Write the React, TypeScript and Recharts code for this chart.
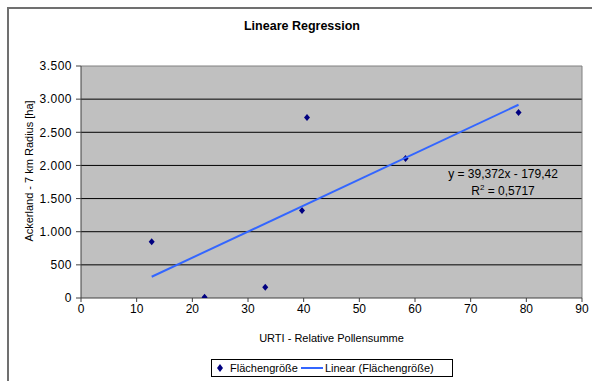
import React from 'react';
import { ScatterChart, Scatter, XAxis, YAxis, CartesianGrid, ReferenceLine } from 'recharts';

// URTI relative pollen sum vs. arable land (7 km radius)
const pollenSum = [12.7, 22.2, 33.1, 39.7, 40.6, 58.3, 78.6];
const areaHa = [848, 10, 161, 1321, 2722, 2105, 2798];

const xTicks = [0, 10, 20, 30, 40, 50, 60, 70, 80, 90];
const yTicks = [0, 500, 1000, 1500, 2000, 2500, 3000, 3500];
const gridValues = [500, 1000, 1500, 2000, 2500, 3000];

// trendline as printed on the chart
const slope = 39.372;
const intercept = -179.42;
const equationText = 'y = 39,372x - 179,42';
const rSquaredText = '0,5717';

const points = pollenSum.map((x, i) => ({ x, y: areaHa[i] }));
const trendX = [Math.min(...pollenSum), Math.max(...pollenSum)];
const trend = trendX.map((x) => ({ x, y: slope * x + intercept }));

const fmtThousands = (v: number) => String(v).replace(/\B(?=(\d{3})+(?!\d))/g, '.');

const font = '"Liberation Sans", Arial, sans-serif';

const Diamond = (props: any) => {
  const { cx, cy } = props;
  return <path d={`M${cx},${cy - 3.5}L${cx + 3},${cy}L${cx},${cy + 3.5}L${cx - 3},${cy}Z`} fill="#000080" />;
};

const NoDot = () => <g />;

export default function App() {
  return (
    <div style={{ position: 'fixed', left: 0, top: 0, width: 592, height: 381, background: '#fff', overflow: 'hidden', fontFamily: font }}>
      <div style={{ position: 'absolute', left: 7, top: 7, width: 640, height: 440, borderLeft: '2px solid #707070', borderTop: '2px solid #707070' }} />
      <div style={{ position: 'absolute', left: 0, width: 604, top: 19, textAlign: 'center', fontSize: 12.5, fontWeight: 'bold', color: '#000' }}>
        Lineare Regression
      </div>
      <ScatterChart width={592} height={381} margin={{ top: 66, right: 10, bottom: 53, left: 0 }} style={{ position: 'absolute', left: 0, top: 0 }}>
        <CartesianGrid vertical={false} horizontalValues={gridValues} stroke="#000" strokeOpacity={1} fill="#C0C0C0" fillOpacity={1} />
        <ReferenceLine y={3500} stroke="#808080" />
        <ReferenceLine x={90} stroke="#808080" />
        <XAxis
          type="number"
          dataKey="x"
          domain={[0, 90]}
          ticks={xTicks}
          height={30}
          tickSize={4}
          tickMargin={2}
          axisLine={{ stroke: '#404040' }}
          tickLine={{ stroke: '#404040' }}
          tick={{ fill: '#000', fontSize: 12, fontFamily: font }}
          allowDataOverflow
        />
        <YAxis
          type="number"
          dataKey="y"
          domain={[0, 3500]}
          ticks={yTicks}
          tickFormatter={fmtThousands}
          width={81}
          tickSize={5}
          tickMargin={4}
          axisLine={{ stroke: '#404040' }}
          tickLine={{ stroke: '#404040' }}
          tick={{ fill: '#000', fontSize: 12, fontFamily: font, letterSpacing: 0.5 }}
          allowDataOverflow
        />
        <Scatter name="Flächengröße" data={points} shape={Diamond} isAnimationActive={false} />
        <Scatter
          name="Linear (Flächengröße)"
          data={trend}
          line={{ stroke: '#3366FF', strokeWidth: 2 }}
          shape={NoDot}
          isAnimationActive={false}
        />
      </ScatterChart>
      <div style={{ position: 'absolute', left: 420, width: 166, top: 166, textAlign: 'center', fontSize: 12, lineHeight: '17px', color: '#000' }}>
        <div>{equationText}</div>
        <div>
          R<sup style={{ fontSize: 8, verticalAlign: 'top', lineHeight: '10px' }}>2</sup> = {rSquaredText}
        </div>
      </div>
      <div style={{ position: 'absolute', left: 29, top: 171, width: 0, height: 0 }}>
        <div style={{ position: 'absolute', left: 0, top: 0, transform: 'translate(-50%, -50%) rotate(-90deg)', whiteSpace: 'nowrap', fontSize: 11, color: '#000', transformOrigin: 'center' }}>
          Ackerland - 7 km Radius [ha]
        </div>
      </div>
      <div style={{ position: 'absolute', left: 81, width: 501, top: 332, textAlign: 'center', fontSize: 11, color: '#000' }}>
        URTI - Relative Pollensumme
      </div>
      <div
        style={{
          position: 'absolute',
          left: 211,
          top: 359,
          width: 240,
          height: 16,
          border: '1px solid #000',
          display: 'flex',
          alignItems: 'center',
          fontSize: 11,
          color: '#000',
          whiteSpace: 'nowrap',
        }}
      >
        <svg width={10} height={10} style={{ marginLeft: 3 }}>
          <path d="M5,1L8,5L5,9L2,5Z" fill="#000080" />
        </svg>
        <span style={{ marginLeft: 5 }}>Flächengröße</span>
        <svg width={22} height={10} style={{ marginLeft: 3 }}>
          <line x1={0} y1={5} x2={22} y2={5} stroke="#3366FF" strokeWidth={2} />
        </svg>
        <span style={{ marginLeft: 2 }}>Linear (Flächengröße)</span>
      </div>
    </div>
  );
}
